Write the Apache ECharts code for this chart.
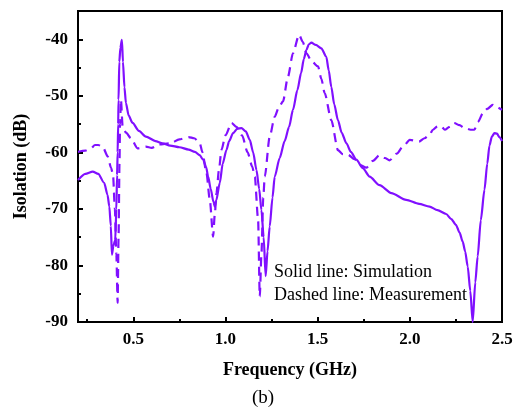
<!DOCTYPE html>
<html>
<head>
<meta charset="utf-8">
<script src="https://cdn.jsdelivr.net/npm/echarts@6/dist/echarts.min.js"></script>
<style>
html,body{margin:0;padding:0;background:#fff;}
#chart{width:522px;height:409px;}
</style>
</head>
<body>
<div id="chart"></div>
<script>
// Simulation (solid)
const simFreq = [0.20,0.24,0.28,0.31,0.342,0.36,0.37,0.378,0.384,0.392,0.402,0.408,0.412,0.415,0.418,0.42,0.424,0.430,0.438,0.444,0.452,0.46,0.475,0.496,0.53,0.568,0.62,0.659,0.70,0.75,0.80,0.834,0.86,0.879,0.895,0.906,0.92,0.935,0.942,0.95,0.969,0.985,1.005,1.02,1.041,1.065,1.087,1.11,1.132,1.15,1.168,1.183,1.195,1.207,1.218,1.228,1.24,1.255,1.267,1.294,1.321,1.345,1.366,1.39,1.41,1.425,1.439,1.452,1.466,1.49,1.52,1.547,1.56,1.574,1.59,1.61,1.63,1.656,1.68,1.71,1.745,1.782,1.836,1.9,1.98,2.05,2.107,2.15,2.197,2.225,2.25,2.27,2.287,2.30,2.314,2.328,2.341,2.355,2.368,2.385,2.405,2.42,2.432,2.445,2.459,2.473,2.486,2.5];
const simIso = [-64.9,-63.8,-63.4,-63.8,-65.4,-67.5,-69.6,-73,-78.1,-76.5,-75.5,-70,-64,-60,-55,-50.7,-44,-41.5,-40.1,-44,-48.5,-51.3,-53.5,-54.8,-56.2,-57.2,-58,-58.4,-58.8,-59.1,-59.5,-59.9,-60.5,-61.3,-62.6,-64.3,-66.5,-68.8,-69.6,-68.5,-65.4,-62,-59.6,-58,-56.6,-55.8,-55.7,-56.3,-57.8,-60,-63.1,-66.5,-70.2,-75,-81.9,-77.5,-73.1,-68,-64.3,-61,-58,-55.5,-52.5,-49,-46,-43.5,-41.9,-40.9,-40.6,-41,-41.6,-43.1,-45.5,-48.4,-51.5,-54.3,-56.5,-58.4,-59.9,-61.3,-62.8,-64.3,-65.8,-67.2,-68.4,-69.1,-69.6,-70.2,-70.9,-71.8,-72.8,-74.2,-75.8,-77.5,-80.2,-84.5,-90,-83,-78.4,-72,-66.6,-62,-58.8,-57.2,-56.6,-56.7,-57.3,-58.0];

// Measurement (dashed)
const measFreq = [0.20,0.24,0.27,0.292,0.31,0.334,0.361,0.379,0.39,0.40,0.408,0.415,0.42,0.425,0.428,0.433,0.442,0.46,0.487,0.523,0.568,0.60,0.64,0.70,0.75,0.80,0.83,0.86,0.875,0.897,0.915,0.933,0.942,0.951,0.965,0.978,1.00,1.033,1.06,1.09,1.12,1.145,1.159,1.177,1.186,1.195,1.205,1.213,1.24,1.267,1.29,1.312,1.339,1.366,1.399,1.42,1.439,1.47,1.502,1.52,1.538,1.574,1.61,1.635,1.664,1.70,1.728,1.764,1.80,1.836,1.865,1.89,1.93,1.962,2.0,2.05,2.08,2.107,2.125,2.15,2.17,2.19,2.215,2.24,2.27,2.296,2.33,2.35,2.37,2.396,2.42,2.45,2.47,2.5];
const measIso = [-59.9,-59.7,-59.3,-58.7,-58.7,-59,-60.7,-62.7,-64,-70,-78,-86.6,-75,-62,-55,-50.7,-55.4,-56.5,-57.5,-59.3,-59,-59.2,-58.6,-58.4,-57.7,-57.3,-57.5,-58.3,-60,-63.7,-68.4,-74.9,-71,-67.2,-63,-59.6,-57,-54.8,-55.5,-57,-60,-62.5,-64.3,-71.9,-85.5,-78,-68,-64.3,-57.2,-53.7,-52,-51,-46.6,-42.5,-39.2,-40.5,-42.5,-44,-44.8,-47,-49.5,-54.3,-59.6,-60.3,-60.4,-61.2,-62.2,-62.7,-61.5,-60.5,-61,-61.4,-60.2,-59,-57.8,-58.1,-57.5,-56.9,-56,-55.4,-55.4,-56,-55.5,-54.8,-55.2,-55.7,-56,-56,-54.6,-53.1,-52.3,-51.6,-52,-52.5];

const xMajor = [0.5,1.0,1.5,2.0,2.5];
const xMinor = [0.25,0.75,1.25,1.75,2.25];
const yMajor = [-90,-80,-70,-60,-50,-40];
const yMinor = [-85,-75,-65,-55,-45];

const purple = '#8010ff';
const serif = '"Liberation Serif","Times New Roman",serif';

const simData = simFreq.map((f,i)=>[f, simIso[i]]);
const measData = measFreq.map((f,i)=>[f, measIso[i]]);

const gridRect = {left:78, top:11, right:20, bottom:87};

const chart = echarts.init(document.getElementById('chart'), null, {renderer:'canvas'});
chart.setOption({
  animation:false,
  backgroundColor:'#fff',
  grid:[
    Object.assign({show:true, borderColor:'#000', borderWidth:2, containLabel:false}, gridRect),
    Object.assign({show:false, containLabel:false}, gridRect)
  ],
  xAxis:[{
    type:'value', gridIndex:0, min:0.2, max:2.5,
    name:'Frequency (GHz)', nameLocation:'middle', nameGap:39,
    nameTextStyle:{fontFamily:serif, fontWeight:'bold', fontSize:18, color:'#000'},
    axisLine:{show:true, onZero:false, lineStyle:{color:'#000', width:2}},
    axisTick:{show:true, inside:true, length:5, customValues:xMajor, lineStyle:{color:'#000', width:2}},
    axisLabel:{customValues:xMajor, formatter:v=>v.toFixed(1), fontFamily:serif, fontWeight:'bold', fontSize:17, color:'#000', margin:9},
    splitLine:{show:false}
  },{
    type:'value', gridIndex:1, min:0.2, max:2.5, position:'bottom',
    axisLine:{show:false, onZero:false},
    axisTick:{show:true, inside:true, length:3, customValues:xMinor, lineStyle:{color:'#000', width:2}},
    axisLabel:{show:false},
    splitLine:{show:false}
  }],
  yAxis:[{
    type:'value', gridIndex:0, min:-90, max:-35,
    name:'Isolation (dB)', nameLocation:'middle', nameGap:48, nameRotate:90,
    nameTextStyle:{fontFamily:serif, fontWeight:'bold', fontSize:18, color:'#000'},
    axisLine:{show:true, onZero:false, lineStyle:{color:'#000', width:2}},
    axisTick:{show:true, inside:true, length:5, customValues:yMajor, lineStyle:{color:'#000', width:2}},
    axisLabel:{customValues:yMajor, fontFamily:serif, fontWeight:'bold', fontSize:17, color:'#000', margin:10},
    splitLine:{show:false}
  },{
    type:'value', gridIndex:1, min:-90, max:-35, position:'left',
    axisLine:{show:false, onZero:false},
    axisTick:{show:true, inside:true, length:3, customValues:yMinor, lineStyle:{color:'#000', width:2}},
    axisLabel:{show:false},
    splitLine:{show:false}
  }],
  series:[{
    type:'line', name:'Simulation', xAxisIndex:0, yAxisIndex:0,
    data:simData, showSymbol:false, smooth:0.25, smoothMonotone:'x',
    lineStyle:{color:purple, width:2.2, type:'solid'}, clip:true
  },{
    type:'line', name:'Measurement', xAxisIndex:0, yAxisIndex:0,
    data:measData, showSymbol:false, smooth:0.25, smoothMonotone:'x',
    lineStyle:{color:purple, width:2.2, type:[9,6]}, clip:true
  }],
  graphic:[
    {type:'text', x:274, y:272, style:{text:'Solid line: Simulation', font:'18px '+serif, fill:'#000', verticalAlign:'middle', align:'left'}},
    {type:'text', x:274, y:295, style:{text:'Dashed line: Measurement', font:'18px '+serif, fill:'#000', verticalAlign:'middle', align:'left'}},
    {type:'text', x:263, y:398, style:{text:'(b)', font:'19px '+serif, fill:'#000', verticalAlign:'middle', align:'center'}}
  ]
});
</script>
</body>
</html>
